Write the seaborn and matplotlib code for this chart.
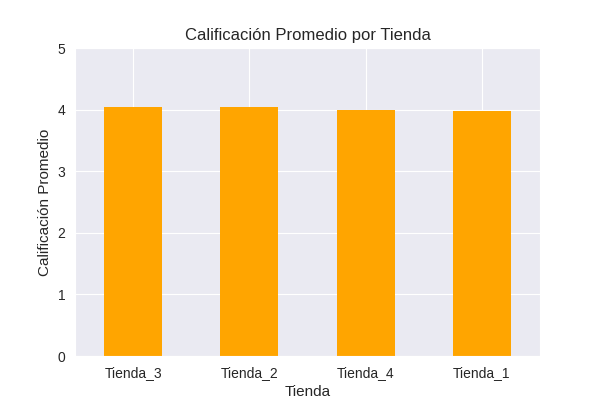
import matplotlib
matplotlib.use("Agg")
import matplotlib.pyplot as plt
import seaborn as sns
import pandas as pd

tiendas = ["Tienda_3", "Tienda_2", "Tienda_4", "Tienda_1"]
calificaciones = [4.05, 4.04, 4.00, 3.98]

sns.set_style("darkgrid")
plt.rcParams['font.family'] = ['Liberation Sans', 'DejaVu Sans']

df = pd.DataFrame({"Tienda": tiendas, "Calificacion": calificaciones})
fig, ax = plt.subplots(figsize=(6, 4), dpi=100)
sns.barplot(data=df, x="Tienda", y="Calificacion", color="orange", saturation=1,
            width=0.5, linewidth=0, ax=ax)
ax.xaxis.grid(True)
ax.set_axisbelow(True)
ax.set_ylim(0, 5)
ax.set_title("Calificación Promedio por Tienda", fontsize=12)
ax.set_xlabel("Tienda", fontsize=11)
ax.set_ylabel("Calificación Promedio", fontsize=11)
ax.tick_params(labelsize=10)
fig.subplots_adjust(left=0.125, right=0.9, top=0.88, bottom=0.11)
fig.savefig("out.png")
